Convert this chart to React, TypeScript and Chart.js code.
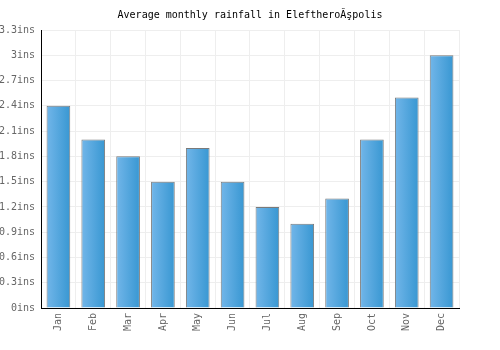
import React, { useEffect, useRef } from "react";
import { Chart, registerables } from "chart.js";

Chart.register(...registerables);

const months = ["Jan", "Feb", "Mar", "Apr", "May", "Jun", "Jul", "Aug", "Sep", "Oct", "Nov", "Dec"];
const rainfall = [2.4, 2.0, 1.8, 1.5, 1.9, 1.5, 1.2, 1.0, 1.3, 2.0, 2.5, 3.0];
const titleText = "Average monthly rainfall in EleftheroĂşpolis";
const yMax = 3.3;
const yStep = 0.3;
const barPct = 0.68;

export default function App() {
  const ref = useRef<HTMLCanvasElement>(null);
  useEffect(() => {
    const canvas = ref.current!;
    const font = { family: "'DejaVu Sans Mono', monospace", size: 10 };
    const chart = new Chart(canvas, {
      type: "bar",
      data: {
        labels: months,
        datasets: [
          {
            data: rainfall,
            backgroundColor: (ctx: any) => {
              const xs = ctx.chart.scales && ctx.chart.scales.x;
              const c = ctx.chart.ctx;
              if (!xs || ctx.dataIndex === undefined || !xs.width) return "#4fa6de";
              const cx = xs.getPixelForValue(ctx.dataIndex);
              const w = (xs.width / months.length) * barPct;
              const x0 = cx - w / 2;
              const g = c.createLinearGradient(x0, 0, x0 + w, 0);
              g.addColorStop(0, "#72b6e9");
              g.addColorStop(1, "#3897d2");
              return g;
            },
            borderColor: "#7a7a7a",
            borderWidth: 1,
            barPercentage: barPct,
            categoryPercentage: 1,
          },
        ],
      },
      options: {
        responsive: false,
        animation: false,
        devicePixelRatio: 1,
        layout: { padding: 0 },
        plugins: {
          legend: { display: false },
          tooltip: { enabled: false },
          title: {
            display: true,
            text: titleText,
            color: "#000",
            font: { ...font, weight: "normal" },
            padding: { top: 9, bottom: 9 },
          },
        },
        scales: {
          x: {
            grid: { color: "#eeeeee", drawTicks: false, offset: true },
            border: { color: "#000", width: 1 },
            ticks: { color: "#666", font, minRotation: 90, maxRotation: 90, padding: 5 },
            afterFit: (s: any) => {
              s.height = 42;
            },
          },
          y: {
            min: 0,
            max: yMax,
            grid: { color: "#eeeeee", drawTicks: false },
            border: { color: "#000", width: 1 },
            ticks: {
              color: "#666",
              font,
              stepSize: yStep,
              padding: 6,
              callback: (v: any) => `${Math.round(Number(v) * 10) / 10}ins`,
            },
            afterFit: (s: any) => {
              s.width = 41;
            },
          },
          yRight: {
            position: "right",
            min: 0,
            max: yMax,
            grid: { display: false },
            border: { display: false },
            ticks: { display: false },
            afterFit: (s: any) => {
              s.width = 41;
            },
          },
        },
      },
    } as any);
    return () => chart.destroy();
  }, []);
  return (
    <div style={{ position: "fixed", left: 0, top: 0, width: 500, height: 350, background: "#fff" }}>
      <canvas ref={ref} width={500} height={350} style={{ width: 500, height: 350 }} />
    </div>
  );
}
